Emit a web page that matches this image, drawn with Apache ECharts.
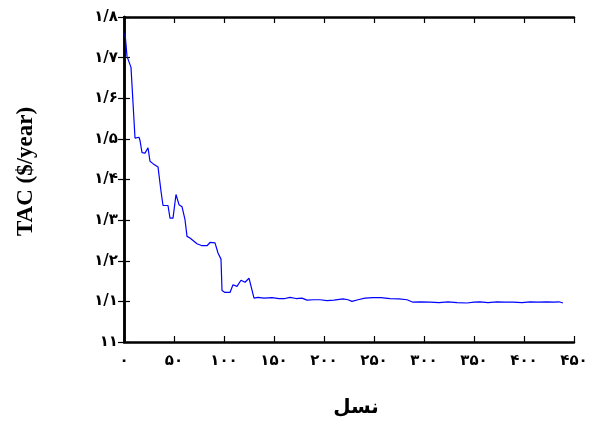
<!DOCTYPE html>
<html>
<head>
<meta charset="utf-8">
<script src="https://cdn.jsdelivr.net/npm/echarts@6/dist/echarts.min.js"></script>
<style>
  html, body { margin: 0; padding: 0; background: #fff; }
  #content { width: 595px; height: 423px; }
</style>
</head>
<body>
<div id="content"></div>
<script>
// generation number (x) and TAC value (y)
var generations = [1, 3, 5, 7, 9, 11, 13, 15, 16, 18, 21, 23, 24, 26, 29, 34, 37, 39, 44, 46, 49, 52, 55, 58, 61, 63, 66, 69, 70, 73, 78, 83, 86, 91, 94, 97, 98, 101, 106, 109, 113, 117, 121, 125, 127, 130, 134, 140, 148, 155, 161, 166, 172, 178, 183, 190, 196, 203, 210, 219, 224, 228, 234, 241, 249, 257, 266, 275, 283, 289, 296, 306, 315, 324, 333, 343, 350, 356, 364, 373, 381, 389, 398, 406, 414, 423, 430, 435, 439];
var tacValues = [1.761, 1.703, 1.702, 1.676, 1.675, 1.502, 1.500, 1.504, 1.496, 1.466, 1.465, 1.466, 1.478, 1.445, 1.439, 1.431, 1.371, 1.336, 1.336, 1.305, 1.305, 1.363, 1.338, 1.333, 1.301, 1.260, 1.256, 1.250, 1.254, 1.242, 1.237, 1.237, 1.245, 1.244, 1.219, 1.204, 1.127, 1.122, 1.122, 1.141, 1.137, 1.152, 1.147, 1.157, 1.153, 1.108, 1.110, 1.108, 1.109, 1.107, 1.107, 1.110, 1.107, 1.108, 1.103, 1.104, 1.104, 1.102, 1.103, 1.106, 1.104, 1.100, 1.104, 1.108, 1.109, 1.109, 1.107, 1.106, 1.104, 1.098, 1.099, 1.098, 1.097, 1.099, 1.097, 1.096, 1.098, 1.099, 1.097, 1.099, 1.098, 1.098, 1.097, 1.099, 1.098, 1.099, 1.098, 1.099, 1.096];

var xTickLabels = ['۰', '۵۰', '۱۰۰', '۱۵۰', '۲۰۰', '۲۵۰', '۳۰۰', '۳۵۰', '۴۰۰', '۴۵۰'];
var yTickLabels = ['۱۱', '۱/۱', '۱/۲', '۱/۳', '۱/۴', '۱/۵', '۱/۶', '۱/۷', '۱/۸'];

var points = generations.map(function (g, i) { return [g, tacValues[i]]; });

var myChart = echarts.init(document.getElementById('content'));

var lineStyle = { color: '#000', width: 2.5 };
var tickStyle = { show: true, inside: true, length: 6, lineStyle: { color: '#000', width: 1.2 } };
var labelFont = { fontFamily: 'DejaVu Sans', fontWeight: 'bold', fontSize: 15, color: '#000' };

var option = {
    animation: false,
    grid: { left: 124, right: 21, top: 17, bottom: 81 },
    xAxis: [
        {
            type: 'value',
            min: 0, max: 450, interval: 50,
            axisLine: { lineStyle: lineStyle },
            axisTick: tickStyle,
            splitLine: { show: false },
            axisLabel: Object.assign({
                margin: 12,
                formatter: function (v) { return xTickLabels[Math.round(v / 50)]; }
            }, labelFont),
            name: 'نسل',
            nameLocation: 'middle',
            nameGap: 56,
            nameTextStyle: { fontFamily: 'DejaVu Sans', fontWeight: 'bold', fontSize: 20, color: '#000', padding: [0, 0, 0, 14] }
        },
        {
            type: 'value', position: 'top',
            min: 0, max: 450, interval: 50,
            axisLine: { show: true, lineStyle: lineStyle },
            axisTick: tickStyle,
            axisLabel: { show: false },
            splitLine: { show: false }
        }
    ],
    yAxis: [
        {
            type: 'value',
            min: 1, max: 1.8, interval: 0.1,
            axisLine: { show: true, lineStyle: lineStyle },
            axisTick: tickStyle,
            splitLine: { show: false },
            axisLabel: Object.assign({
                margin: 6,
                formatter: function (v) { return yTickLabels[Math.round((v - 1) * 10)]; }
            }, labelFont),
            name: 'TAC ($/year)',
            nameLocation: 'middle',
            nameGap: 86,
            nameTextStyle: { fontFamily: 'Liberation Serif', fontWeight: 'bold', fontSize: 23, color: '#000', padding: [0, 0, 0, 16] }
        },
        {
            type: 'value', position: 'right',
            min: 1, max: 1.8, interval: 0.1,
            axisLine: { show: true, lineStyle: lineStyle },
            axisTick: tickStyle,
            axisLabel: { show: false },
            splitLine: { show: false }
        }
    ],
    series: [
        {
            type: 'line',
            data: points,
            showSymbol: false,
            lineStyle: { color: '#0000ff', width: 1.2 }
        }
    ]
};
myChart.setOption(option);
</script>
</body>
</html>
